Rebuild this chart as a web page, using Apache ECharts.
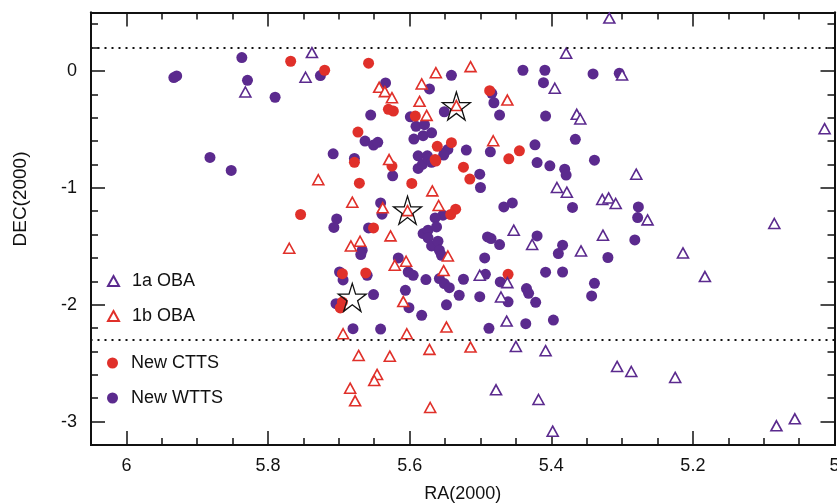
<!DOCTYPE html>
<html>
<head>
<meta charset="utf-8">
<script src="https://cdn.jsdelivr.net/npm/echarts@6/dist/echarts.min.js"></script>
<style>
  html, body { margin: 0; padding: 0; background: #fff; }
  #chart { width: 837px; height: 503px; }
</style>
</head>
<body>
<div id="chart"></div>
<script>
// RA / DEC positions
const WTTS = [
  [5.837,0.114],[5.933,-0.057],[5.929,-0.043],[5.829,-0.080],[5.790,-0.225],[5.882,-0.740],[5.852,-0.851],
  [5.726,-0.040],[5.634,-0.103],[5.541,-0.037],[5.572,-0.154],[5.551,-0.349],[5.655,-0.377],[5.599,-0.392],
  [5.591,-0.474],[5.579,-0.460],[5.663,-0.600],[5.651,-0.634],[5.645,-0.611],[5.594,-0.583],[5.581,-0.554],
  [5.569,-0.529],[5.551,-0.700],[5.546,-0.671],[5.708,-0.709],[5.678,-0.748],[5.588,-0.726],[5.575,-0.726],
  [5.520,-0.677],[5.440,0.006],[5.409,0.006],[5.341,-0.026],[5.304,-0.020],[5.411,-0.100],[5.484,-0.191],
  [5.481,-0.272],[5.473,-0.377],[5.408,-0.386],[5.366,-0.585],[5.486,-0.692],[5.423,-0.632],[5.420,-0.784],
  [5.339,-0.763],[5.624,-0.897],[5.588,-0.834],[5.582,-0.800],[5.574,-0.754],[5.569,-0.782],[5.552,-0.720],
  [5.641,-1.129],[5.639,-1.225],[5.553,-1.234],[5.564,-1.257],[5.703,-1.266],[5.707,-1.339],[5.658,-1.343],
  [5.581,-1.391],[5.574,-1.362],[5.562,-1.334],[5.574,-1.428],[5.569,-1.497],[5.560,-1.457],[5.558,-1.534],
  [5.555,-1.577],[5.667,-1.534],[5.669,-1.571],[5.616,-1.600],[5.602,-1.720],[5.595,-1.748],[5.577,-1.785],
  [5.558,-1.776],[5.551,-1.819],[5.544,-1.854],[5.530,-1.919],[5.524,-1.782],[5.699,-1.720],[5.660,-1.748],
  [5.694,-1.788],[5.651,-1.913],[5.606,-1.877],[5.704,-1.991],[5.601,-2.025],[5.583,-2.091],[5.548,-2.001],
  [5.680,-2.205],[5.641,-2.208],[5.501,-0.883],[5.500,-0.997],[5.402,-0.812],[5.381,-0.840],[5.379,-0.891],
  [5.467,-1.163],[5.455,-1.129],[5.370,-1.168],[5.277,-1.163],[5.278,-1.254],[5.490,-1.420],[5.485,-1.434],
  [5.473,-1.485],[5.420,-1.411],[5.384,-1.491],[5.390,-1.562],[5.282,-1.446],[5.320,-1.596],[5.494,-1.600],
  [5.408,-1.722],[5.384,-1.720],[5.493,-1.740],[5.472,-1.805],[5.435,-1.862],[5.432,-1.902],[5.339,-1.817],
  [5.343,-1.925],[5.501,-1.931],[5.461,-1.975],[5.422,-1.979],[5.488,-2.202],[5.436,-2.162],[5.397,-2.131]
];
const CTTS = [
  [5.768,0.083],[5.720,0.006],[5.658,0.066],[5.630,-0.328],[5.623,-0.343],[5.592,-0.386],[5.673,-0.523],
  [5.561,-0.645],[5.541,-0.614],[5.564,-0.757],[5.487,-0.169],[5.445,-0.683],[5.460,-0.752],[5.678,-0.782],
  [5.625,-0.814],[5.563,-0.771],[5.524,-0.823],[5.671,-0.960],[5.597,-0.962],[5.515,-0.925],[5.535,-1.183],
  [5.542,-1.228],[5.754,-1.228],[5.651,-1.343],[5.695,-1.734],[5.662,-1.728],[5.461,-1.740],[5.695,-1.977],
  [5.698,-2.027]
];
const OBA_1A = [
  [5.738,0.157],[5.747,-0.054],[5.832,-0.180],[5.318,0.452],[5.379,0.152],[5.300,-0.034],[5.395,-0.148],
  [5.364,-0.371],[5.359,-0.411],[5.014,-0.494],[5.280,-0.883],[5.392,-0.997],[5.378,-1.037],[5.328,-1.099],
  [5.319,-1.086],[5.309,-1.134],[5.264,-1.274],[5.453,-1.362],[5.427,-1.485],[5.327,-1.405],[5.358,-1.540],
  [5.501,-1.748],[5.462,-1.811],[5.471,-1.934],[5.214,-1.557],[5.183,-1.759],[5.085,-1.305],[5.463,-2.140],
  [5.450,-2.357],[5.408,-2.393],[5.307,-2.528],[5.287,-2.571],[5.478,-2.728],[5.418,-2.811],[5.398,-3.082],
  [5.225,-2.622],[5.082,-3.036],[5.056,-2.976]
];
const OBA_1B = [
  [5.643,-0.140],[5.635,-0.177],[5.625,-0.229],[5.563,-0.015],[5.583,-0.111],[5.586,-0.260],[5.534,-0.296],
  [5.576,-0.380],[5.629,-0.758],[5.514,0.037],[5.462,-0.249],[5.482,-0.597],[5.729,-0.931],[5.568,-1.026],
  [5.681,-1.123],[5.603,-1.195],[5.638,-1.171],[5.559,-1.151],[5.627,-1.411],[5.683,-1.497],[5.670,-1.457],
  [5.770,-1.517],[5.546,-1.583],[5.621,-1.662],[5.605,-1.628],[5.552,-1.708],[5.609,-1.973],[5.694,-2.248],
  [5.604,-2.248],[5.548,-2.191],[5.672,-2.434],[5.628,-2.440],[5.572,-2.382],[5.646,-2.596],[5.650,-2.648],
  [5.684,-2.714],[5.677,-2.822],[5.571,-2.879],[5.514,-2.362]
];
const STARS = [[5.534,-0.300],[5.603,-1.191],[5.681,-1.937]];
const DOTTED_DEC = [0.2, -2.3];

const X_LABELS = [5, 5.2, 5.4, 5.6, 5.8, 6];
const Y_LABELS = [-3, -2, -1, 0];

const X_MIN = 5, X_MAX = 6.05;
const Y_MIN = -3.2, Y_MAX = 0.5;

const PURPLE = '#5b2a8e';
const RED = '#e0302a';
const INK = '#111';
const FONT = 'Liberation Sans, Arial, Helvetica, sans-serif';
const STAR = 'path://M50,0L61.2,34.6L97.6,34.5L68.1,55.9L79.4,90.5L50,69L20.6,90.5L31.9,55.9L2.4,34.5L38.8,34.6Z';

// minor tick positions (every 0.05 in RA, 0.2 in DEC)
const xMinor = [];
for (let i = 0; i <= 21; i++) xMinor.push(Math.round((5 + i * 0.05) * 100) / 100);
const yMinor = [];
for (let i = 0; i <= 18; i++) yMinor.push(Math.round((-3.2 + i * 0.2) * 10) / 10);

const labelStyle = { color: INK, fontSize: 18, fontFamily: FONT };

function xAxis(position, ticks, len, labels) {
  return {
    type: 'value', position, min: X_MIN, max: X_MAX, inverse: true,
    axisLine: { show: true, onZero: false, lineStyle: { color: INK, width: 2 } },
    axisTick: { show: true, inside: true, length: len, customValues: ticks, lineStyle: { color: INK, width: 1.5 } },
    axisLabel: labels ? Object.assign({ customValues: X_LABELS, formatter: v => String(v), margin: 12 }, labelStyle) : { show: false },
    splitLine: { show: false }
  };
}
function yAxis(position, ticks, len, labels) {
  return {
    type: 'value', position, min: Y_MIN, max: Y_MAX,
    axisLine: { show: true, onZero: false, lineStyle: { color: INK, width: 2 } },
    axisTick: { show: true, inside: true, length: len, customValues: ticks, lineStyle: { color: INK, width: 1.5 } },
    axisLabel: labels ? Object.assign({ customValues: Y_LABELS, formatter: v => String(v), margin: 14 }, labelStyle) : { show: false },
    splitLine: { show: false }
  };
}

const chart = echarts.init(document.getElementById('chart'));

const xMain = xAxis('bottom', X_LABELS, 14, true);
xMain.name = 'RA(2000)';
xMain.nameLocation = 'middle';
xMain.nameGap = 40;
xMain.nameTextStyle = { color: INK, fontSize: 18, fontFamily: FONT };

const hollow = color => ({ color: '#fff', borderColor: color, borderWidth: 1.6, opacity: 1 });
const legendText = { color: INK, fontSize: 18, fontFamily: FONT, padding: [0, 0, 0, 8] };

chart.setOption({
  animation: false,
  backgroundColor: '#fff',
  grid: { left: 91, right: 2.5, top: 12.5, bottom: 58, containLabel: false, outerBoundsMode: 'none' },
  xAxis: [
    xMain,
    xAxis('bottom', xMinor, 7, false),
    xAxis('top', X_LABELS, 14, false),
    xAxis('top', xMinor, 7, false)
  ],
  yAxis: [
    yAxis('left', Y_LABELS, 14, true),
    yAxis('left', yMinor, 7, false),
    yAxis('right', Y_LABELS, 14, false),
    yAxis('right', yMinor, 7, false)
  ],
  legend: [
    {
      data: ['1a OBA', '1b OBA'], orient: 'vertical', left: 107, top: 272, padding: 0,
      itemWidth: 11, itemHeight: 10, itemGap: 17, selectedMode: false, textStyle: legendText
    },
    {
      data: ['New CTTS', 'New WTTS'], orient: 'vertical', left: 107, top: 354, padding: 0,
      itemWidth: 11, itemHeight: 11, itemGap: 17, selectedMode: false, textStyle: legendText
    }
  ],
  graphic: [{
    type: 'text', x: 21, y: 199, rotation: Math.PI / 2,
    style: { text: 'DEC(2000)', fill: INK, fontSize: 19, fontFamily: FONT, align: 'center', verticalAlign: 'middle' }
  }],
  series: [
    {
      name: 'New WTTS', type: 'scatter', data: WTTS, symbol: 'circle', symbolSize: 11,
      itemStyle: { color: PURPLE, opacity: 1 },
      markLine: {
        silent: true, symbol: ['none', 'none'], label: { show: false },
        lineStyle: { color: INK, type: [2, 5], width: 2 },
        data: DOTTED_DEC.map(v => ({ yAxis: v }))
      }
    },
    { name: 'New CTTS', type: 'scatter', data: CTTS, symbol: 'circle', symbolSize: 11, itemStyle: { color: RED, opacity: 1 } },
    { name: '1a OBA', type: 'scatter', data: OBA_1A, symbol: 'triangle', symbolSize: [11, 10], itemStyle: hollow(PURPLE) },
    { name: '1b OBA', type: 'scatter', data: OBA_1B, symbol: 'triangle', symbolSize: [11, 10], itemStyle: hollow(RED) },
    {
      name: 'Stars', type: 'scatter', data: STARS, symbol: STAR, symbolSize: 28,
      itemStyle: { color: 'rgba(0,0,0,0)', borderColor: INK, borderWidth: 1.3, opacity: 1 }
    }
  ]
});
</script>
</body>
</html>
